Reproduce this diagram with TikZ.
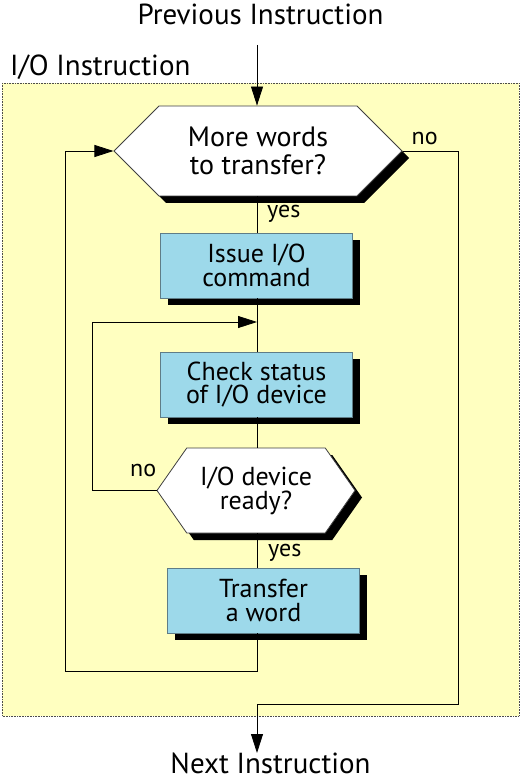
\documentclass[tikz,border=0pt]{standalone}
\usepackage{fontspec}
\setmainfont{PT Sans}
\usetikzlibrary{shapes.symbols,shadows,arrows.meta,positioning}

\definecolor{ioyellow}{RGB}{255,255,192}
\definecolor{boxblue}{RGB}{157,217,234}
\definecolor{boxedge}{RGB}{95,125,135}

\tikzset{
  flow/.style={line width=0.8pt, -{Triangle[length=19pt,width=12pt]}},
  link/.style={line width=0.8pt},
  blackshadow/.style={drop shadow={shadow xshift=7pt, shadow yshift=-7pt, fill=black, opacity=1}},
  stepbox/.style={draw=boxedge, line width=0.8pt, fill=boxblue, blackshadow, align=center,
    minimum width=192pt, minimum height=65pt, inner sep=0pt, font=\fontsize{26}{23.5}\selectfont},
  decision/.style={signal, signal to=west and east, draw=black!75, line width=0.8pt, fill=white,
    blackshadow, align=center, inner sep=0pt},
  answer/.style={anchor=base west, inner sep=0pt, font=\fontsize{24}{24}\selectfont},
  title/.style={anchor=base, inner sep=0pt, font=\fontsize{29}{29}\selectfont}
}

\begin{document}
\begin{tikzpicture}[x=1pt, y=-1pt]
\useasboundingbox (0,0) rectangle (520,783);

% dotted frame
\draw[densely dotted, fill=ioyellow, draw=black!70, line width=0.6pt] (2,83) rectangle (519,716);
\node[title, anchor=base west] (iolabel) at (10,76) {I/O Instruction};

\node[title] (prev) at (260.5,25) {Previous Instruction};
\node[title] (next) at (270.5,773) {Next Instruction};

\node[decision, minimum width=288pt, minimum height=90pt, signal pointer angle=90,
  font=\fontsize{28}{27.5}\selectfont] (more) at (258,151) {More words\\to transfer?};
\node[stepbox] (issue) at (256.5,265.5) {Issue I/O\\command};
\node[stepbox] (check) at (256.5,384.5) {Check status\\of I/O device};
\node[decision, minimum width=198pt, minimum height=85pt, signal pointer angle=110,
  font=\fontsize{26}{24}\selectfont] (ready) at (256,490.5) {I/O device\\ready?};
\node[stepbox] (xfer) at (263.5,600.5) {Transfer\\a word};

\node[answer] (no1) at (411.5,145) {no};
\node[answer] (yes1) at (267,218) {yes};
\node[answer] (no2) at (130,476.5) {no};
\node[answer] (yes2) at (268,556.5) {yes};

\coordinate (in) at (257,45);
\coordinate (merge) at (257,322);
\coordinate (loopA) at (65,671);
\coordinate (loopB) at (92,322);
\coordinate (exitA) at (458,704);
\coordinate (out) at (257,753);

\draw[flow] (in) -- (in |- more.north);
\draw[link] (more.south -| in) -- (issue.north -| in);
\draw[link] (issue.south -| in) -- (check.north -| in);
\draw[link] (check.south -| in) -- (ready.north -| in);
\draw[link] (ready.south -| in) -- (xfer.north -| in);
\draw[flow] (xfer.south -| in) |- (loopA) |- (more.west);
\draw[flow] (ready.west) -| (loopB) -- (merge);
\draw[flow] (more.east) -| (exitA) -| (out);

\end{tikzpicture}
\end{document}
